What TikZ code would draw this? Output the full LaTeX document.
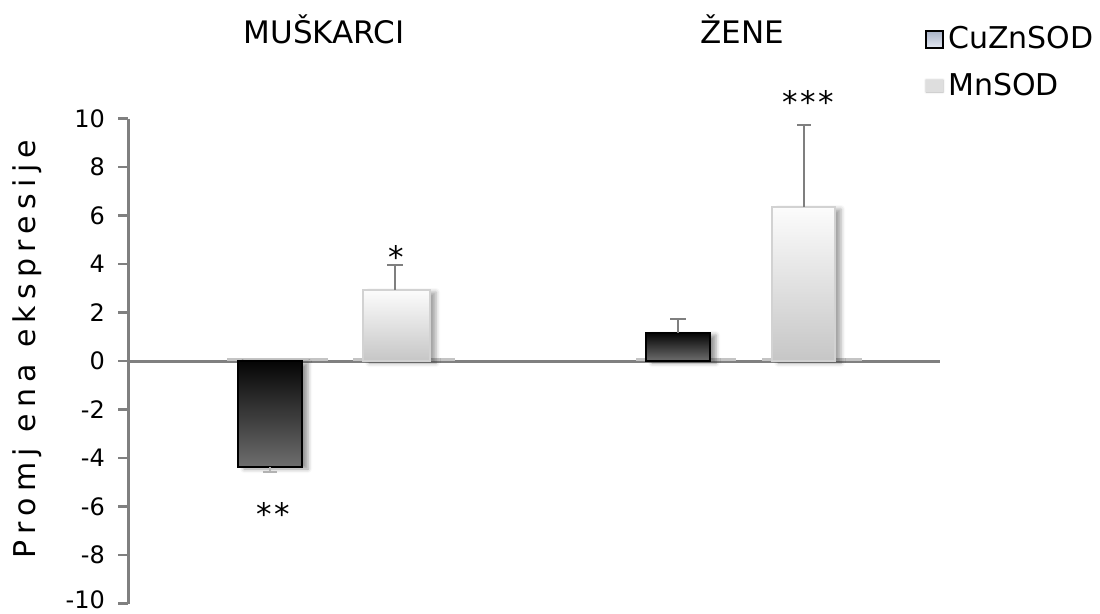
\documentclass[tikz,border=0pt]{standalone}
\usepackage{fontspec}
\setmainfont{DejaVu Sans}
\usetikzlibrary{shadows.blur}
\definecolor{axisgray}{HTML}{808080}
\definecolor{floorgray}{HTML}{C4C4C4}
\definecolor{errgray}{HTML}{7F7F7F}
\definecolor{darktop}{HTML}{050505}
\definecolor{darkbot}{HTML}{6E6E6E}
\definecolor{lighttop}{HTML}{FCFCFC}
\definecolor{lightbot}{HTML}{C6C6C6}
\definecolor{legtop}{HTML}{A9B3C8}
\definecolor{legbot}{HTML}{E4E9F2}
\tikzset{
  axisline/.style={draw=axisgray, line width=3pt},
  tickline/.style={draw=axisgray, line width=2.2pt},
  floorline/.style={draw=floorgray, line width=3pt},
  darkbar/.style={shading=axis, top color=darktop, bottom color=darkbot, draw=black, line width=1.6pt,
    blur shadow={shadow xshift=6pt, shadow yshift=-2pt, shadow blur radius=4pt, shadow opacity=40}},
  lightbar/.style={shading=axis, top color=lighttop, bottom color=lightbot, draw=gray!35, line width=1.4pt,
    blur shadow={shadow xshift=6pt, shadow yshift=-2pt, shadow blur radius=4pt, shadow opacity=35}},
  errline/.style={draw=errgray, line width=2.2pt},
  ticklabel/.style={anchor=east, inner sep=0pt, font=\fontsize{24}{28}\selectfont},
  header/.style={anchor=base, inner sep=0pt, font=\fontsize{31}{36}\selectfont},
  legtext/.style={anchor=base west, inner sep=0pt, font=\fontsize{30}{35}\selectfont},
  stars/.style={anchor=base, inner sep=0pt, font=\fontsize{31}{36}\selectfont\addfontfeature{LetterSpace=8}},
}
\begin{document}
\begin{tikzpicture}[x=1pt,y=-1pt]
\useasboundingbox (0,0) rectangle (1100,613);
% axes
\draw[axisline] (128,118.5) -- (128,603.5);
\draw[axisline] (128,361) -- (940,361);
\foreach \v in {-8,-6,...,10}{
  \pgfmathsetmacro{\yy}{361-24.25*\v}
  \draw[tickline] (118,\yy) -- (128,\yy);
  \node[ticklabel] at (105,\yy) {\v};
}
\draw[tickline] (118,603.5) -- (128,603.5);
\node[ticklabel] (tm10) at (105,600) {-10};
% floor highlights
\draw[floorline] (227,359.5) -- (328,359.5);
\draw[floorline] (353,359.5) -- (455,359.5);
\draw[floorline] (636,359.5) -- (736,359.5);
\draw[floorline] (762,359.5) -- (862,359.5);
% bars
\path[darkbar] (238,361) rectangle (302,467);
\path[lightbar] (363,290) rectangle (430,361);
\path[darkbar] (646,333) rectangle (710,361);
\path[lightbar] (772,207) rectangle (835,361);
% error bars
\draw[errline, draw=errgray!60] (270,467) -- (270,472);
\draw[errline, draw=errgray!60] (263,472) -- (277,472);
\draw[errline] (395,290) -- (395,265);
\draw[errline] (387,265) -- (403,265);
\draw[errline] (678,333) -- (678,319);
\draw[errline] (670,319) -- (686,319);
\draw[errline] (804,207) -- (804,125);
\draw[errline] (797,125) -- (811,125);
% significance
\node[stars] (s1) at (273,525) {**};
\node[stars] (s2) at (396,268) {*};
\node[stars] (s3) at (808,113) {***};
% headers
\node[header] (hm) at (324,43) {MUŠKARCI};
\node[header] (hz) at (742.5,43) {ŽENE};
% legend
\path[shading=axis, top color=legtop, bottom color=legbot, draw=black, line width=1.6pt] (926,31) rectangle (943,48);
\node[legtext] (l1) at (948,48) {CuZnSOD};
\path[fill=black!13, blur shadow={shadow xshift=0pt, shadow yshift=0pt, shadow blur radius=2pt, shadow opacity=30}] (926,80) rectangle (943,92);
\node[legtext] (l2) at (948,95) {MnSOD};
% y label
\node[rotate=90, anchor=base, inner sep=0pt, font=\fontsize{30}{36}\selectfont\addfontfeature{LetterSpace=21}] (yl) at (35,349) {Promj ena ekspresije};
\end{tikzpicture}
\end{document}
